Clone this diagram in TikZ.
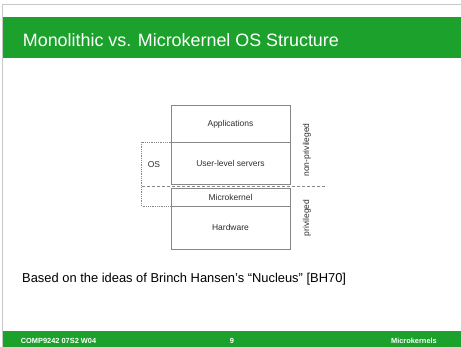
\documentclass[tikz,border=0pt]{standalone}
\usepackage{fontspec}
\setmainfont{Liberation Sans}
\definecolor{slidegreen}{RGB}{27,161,44}
\definecolor{bordergray}{RGB}{200,200,200}
\definecolor{linegray}{RGB}{135,135,135}
\definecolor{txtgray}{RGB}{45,45,45}
\tikzset{
  layer/.style={draw=linegray, line width=0.6pt, inner sep=0pt, outer sep=0pt,
    minimum width=119pt, font=\fontsize{8.5}{10}\selectfont, text=txtgray},
  lbl/.style={inner sep=0pt, font=\fontsize{8.5}{10}\selectfont, text=txtgray},
  foot/.style={inner sep=0pt, text=white, font=\fontsize{7.4}{9}\selectfont\bfseries},
}
\begin{document}
\begin{tikzpicture}[x=1pt,y=-1pt]
\useasboundingbox (0,0) rectangle (461,347);
% frame
\draw[bordergray, line width=0.8pt] (2.5,347) -- (2.5,4.3) -- (461,4.3);
% title bar
\fill[slidegreen] (3,17) rectangle (461,58);
\node[anchor=base west, inner sep=0pt, text=white, font=\fontsize{17.9}{20}\selectfont] (title) at (22.7,47) {Monolithic vs. Microkernel OS Structure};
% layers
\node[layer, minimum height=36.8pt] (apps) at (230.5,124.1) {Applications};
\node[layer, minimum height=41.8pt] (uls) at (230.5,163.4) {User-level servers};
\node[layer, minimum height=17.5pt] (mk) at (230.5,197.25) {Microkernel};
\node[layer, minimum height=43pt] (hw) at (230.5,227.5) {Hardware};
% privilege boundary
\coordinate (dl) at (142,186.3);
\coordinate (dr) at (327,186.3);
\draw[linegray, line width=0.6pt, dash pattern=on 3pt off 2pt] (dl) -- (dr);
% OS bracket
\coordinate (ostl) at (141.7,142.5);
\draw[linegray, line width=0.6pt, dash pattern=on 0.6pt off 1.2pt] (uls.north west) -- (ostl) |- (hw.north west);
\node[lbl] (os) at (154,165) {OS};
\node[lbl, rotate=90] (np) at (307,150) {non-privileged};
\node[lbl, rotate=90] (pr) at (307,218) {privileged};
% body text
\node[anchor=base west, inner sep=0pt, font=\fontsize{12.9}{15}\selectfont] (body) at (22,283) {Based on the ideas of Brinch Hansen's “Nucleus” [BH70]};
% footer
\fill[slidegreen] (3,331) rectangle (461,347);
\node[foot, anchor=base west] (f1) at (20.7,343.5) {COMP9242 07S2 W04};
\node[foot, anchor=base] (f2) at (232,343.5) {9};
\node[foot, anchor=base east] (f3) at (437,343.5) {Microkernels};
\end{tikzpicture}
\end{document}
